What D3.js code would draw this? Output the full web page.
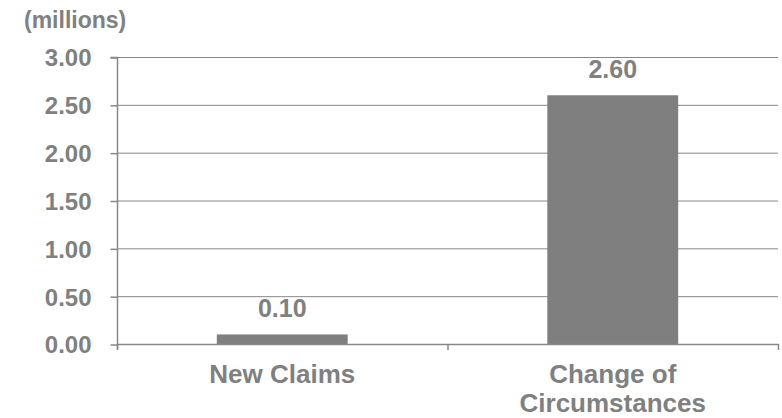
<!DOCTYPE html>
<html>
<head>
<meta charset="utf-8">
<script src="https://cdn.jsdelivr.net/npm/d3@7"></script>
<style>
  body { margin: 0; background: #fff; }
  text { font-family: "Liberation Sans", Arial, sans-serif; font-weight: bold; fill: #808080; }
</style>
</head>
<body>
<div id="container"></div>
<script>
// chart data
var categories = ["New Claims", "Change of Circumstances"];
var values = [0.10, 2.60];
var yTicks = [0, 0.5, 1, 1.5, 2, 2.5, 3];

var width = 782, height = 418;
var plot = { left: 117, right: 778, top: 57, bottom: 344 };

var svg = d3.select("#container").append("svg")
    .attr("width", width)
    .attr("height", height);

var x = d3.scaleBand()
    .domain(categories)
    .range([plot.left, plot.right])
    .paddingInner(0.604)
    .paddingOuter(0.302);

var y = d3.scaleLinear()
    .domain([0, 3])
    .range([plot.bottom, plot.top]);

// gridlines
svg.append("g")
    .selectAll("line")
    .data(yTicks.filter(function (d) { return d > 0; }))
    .enter().append("line")
    .attr("x1", plot.left).attr("x2", plot.right)
    .attr("y1", function (d) { return y(d) + 0.5; })
    .attr("y2", function (d) { return y(d) + 0.5; })
    .attr("stroke", "#888").attr("stroke-width", 1);

// y axis
var yAxis = svg.append("g")
    .attr("transform", "translate(" + (plot.left + 0.5) + ",0.5)")
    .call(d3.axisLeft(y).tickValues(yTicks).tickSize(7).tickPadding(19)
        .tickFormat(d3.format(".2f")));
yAxis.selectAll("path, line").attr("stroke", "#888").attr("stroke-width", 1.5);
yAxis.select(".domain").attr("d", "M0," + (plot.bottom + 5) + "V" + plot.top + "H-7");
yAxis.selectAll("text").style("font-size", "24px").attr("dy", "0.35em");

// bars
svg.append("g")
    .selectAll("rect")
    .data(values)
    .enter().append("rect")
    .attr("x", function (d, i) { return x(categories[i]); })
    .attr("y", function (d) { return y(d); })
    .attr("width", x.bandwidth())
    .attr("height", function (d) { return y(0) - y(d); })
    .style("fill", "#7f7f7f");

// value labels
svg.append("g")
    .selectAll("text")
    .data(values)
    .enter().append("text")
    .attr("x", function (d, i) { return x(categories[i]) + x.bandwidth() / 2; })
    .attr("y", function (d) { return y(d) - 17; })
    .attr("text-anchor", "middle")
    .style("font-size", "25px")
    .text(function (d) { return d3.format(".2f")(d); });

// x axis line and category ticks
var step = x.step();
var xb = svg.append("g");
xb.append("line")
    .attr("x1", plot.left).attr("x2", plot.right + 1)
    .attr("y1", plot.bottom + 0.5).attr("y2", plot.bottom + 0.5)
    .attr("stroke", "#888").attr("stroke-width", 1.5);
xb.selectAll(".tk")
    .data(d3.range(categories.length + 1))
    .enter().append("line")
    .attr("class", "tk")
    .attr("x1", function (i) { return plot.left + 0.5 + i * step; })
    .attr("x2", function (i) { return plot.left + 0.5 + i * step; })
    .attr("y1", plot.bottom).attr("y2", plot.bottom + 6)
    .attr("stroke", "#888").attr("stroke-width", 1.5);

// category labels (wrapped)
var labelLines = [["New Claims"], ["Change of", "Circumstances"]];
svg.append("g")
    .selectAll("text")
    .data(categories)
    .enter().append("text")
    .attr("x", function (d) { return x(d) + x.bandwidth() / 2; })
    .attr("y", 383)
    .attr("text-anchor", "middle")
    .style("font-size", "26px")
    .each(function (d, i) {
        var t = d3.select(this);
        labelLines[i].forEach(function (s, k) {
            t.append("tspan")
                .attr("x", x(d) + x.bandwidth() / 2)
                .attr("dy", k === 0 ? 0 : 29)
                .text(s);
        });
    });

// unit label
svg.append("text")
    .attr("x", 24).attr("y", 28)
    .style("font-size", "23px")
    .text("(millions)");
</script>
</body>
</html>
